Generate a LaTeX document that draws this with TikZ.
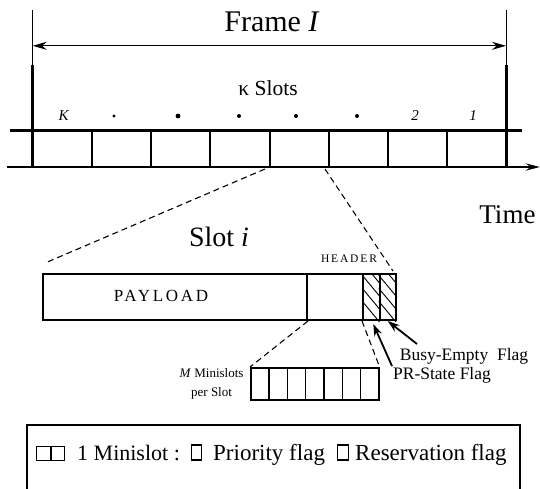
\documentclass[tikz,border=0pt]{standalone}
\usepackage{fontspec}
\setmainfont{Liberation Serif}
\newfontfamily\capsfont[LetterSpace=16]{Liberation Serif}
\usetikzlibrary{arrows.meta,calc,positioning}

\tikzset{
  thickrule/.style={line width=2.6pt},
  slotline/.style={line width=2pt},
  boxline/.style={draw,line width=2pt,inner sep=0pt},
  zoomline/.style={line width=1.1pt,dash pattern=on 6pt off 4pt},
  flagarrow/.style={line width=1.8pt,-{Stealth[length=12pt,width=8pt]}},
  legendbox/.style={draw,line width=1.2pt,inner sep=0pt},
}

\begin{document}
\begin{tikzpicture}[x=1pt,y=-1pt,>=Stealth]
\useasboundingbox (0,0) rectangle (540,488);

% frame I
\draw[line width=1pt] (32.7,10)--(32.7,65);
\draw[line width=3pt] (32.7,65)--(32.7,168);
\draw[line width=1pt] (506,10)--(506,65);
\draw[line width=3pt] (506,65)--(506,168);
\draw[line width=1.1pt,{Stealth[length=14pt,width=8pt]}-{Stealth[length=14pt,width=8pt]}] (32.7,45.8)--(506,45.8);
\node (frame) at (272,22) {\fontsize{30}{30}\selectfont Frame \textit{I}};
\node (kslots) at (268,88) {\fontsize{21.5}{22}\selectfont κ Slots};

% slot row and time axis
\draw[thickrule] (10,130.5)--(522,130.5);
\draw[thickrule,-{Stealth[length=14pt,width=7pt]}] (7,167)--(540,167);
\foreach \i in {1,...,7}
  \draw[slotline] ({32.7+59.2*\i},130)--({32.7+59.2*\i},167);
\foreach \x/\t in {64/K,415/2,473/1}
  \node at (\x,116) {\fontsize{15}{15}\selectfont\textit{\t}};
\foreach \x/\r in {114/1.6,178/2.4,239/2,296/2,357/2}
  \fill (\x,116) circle (\r);
\coordinate (si-l) at (265,169);
\coordinate (si-r) at (325,169);
\node[anchor=east] (time) at (539,215) {\fontsize{27}{27}\selectfont Time};

% slot i
\node (sloti) at (219,237) {\fontsize{28}{28}\selectfont Slot \textit{i}};
\node[boxline,minimum width=264pt,minimum height=46pt,anchor=north west] (payload) at (42,273) {};
\node (ptag) at (161,296) {\fontsize{17}{17}\capsfont PAYLOAD};
\node[boxline,minimum width=56pt,minimum height=46pt,anchor=north west] (header) at (306,273) {};
\node[boxline,minimum width=16.5pt,minimum height=46pt,anchor=north west] (prflag) at (362,273) {};
\node[boxline,minimum width=16.5pt,minimum height=46pt,anchor=north west] (beflag) at (378.5,273) {};
\foreach \c in {prflag,beflag}{
  \begin{scope}
    \clip (\c.south west) rectangle (\c.north east);
    \foreach \k in {-24,-11,...,40}
      \draw[line width=0.9pt] ($(\c.north west)+(0,\k)$) -- ++(20,24);
  \end{scope}
}
\node (hlabel) at (349,259) {\fontsize{11.5}{12}\capsfont HEADER};
\coordinate (pay-end) at (45,263);
\coordinate (head-end) at (393,271);
\draw[zoomline] (si-l)--(pay-end);
\draw[zoomline] (si-r)--(head-end);

% minislots
\foreach \k in {0,...,6}
  \node[draw,line width=1.5pt,minimum width=18.3pt,minimum height=32pt,inner sep=0pt,anchor=north west]
    (mini\k) at ({250+18.3*\k},367) {};
\draw[zoomline] (payload.south east)--(mini0.north west);
\draw[zoomline] (prflag.south west)--(mini6.north east);
\node[left=3pt of mini0.west,align=center,font=\fontsize{13}{19}\selectfont] (mlabel)
  {\textit{M} Minislots\\per Slot};

% flags
\node (belabel) at (464,356) {\fontsize{17.5}{18}\selectfont Busy-Empty\ \ Flag};
\node (prlabel) at (442,375) {\fontsize{17.5}{18}\selectfont PR-State Flag};
\coordinate (be-tail) at (417,344);
\coordinate (pr-tail) at (392,366);
\draw[flagarrow] (be-tail)--(beflag.south);
\draw[flagarrow] (pr-tail)--($(prflag.south)+(2,3)$);

% legend
\draw[line width=1.2pt] (27,492)--(27,425)--(520,425)--(520,492);
\node[legendbox,minimum width=13.5pt,minimum height=14pt,anchor=north west] (ic1) at (36,446) {};
\node[legendbox,minimum width=13.5pt,minimum height=14pt,right=0pt of ic1] (ic2) {};
\begin{scope}[font=\fontsize{23}{24}\selectfont]
\node[anchor=base west,inner sep=0pt,font=\fontsize{22}{24}\selectfont] (mtext) at (77,460) {1 Minislot :};
\node[legendbox,minimum width=10pt,minimum height=15pt,anchor=south west] (psq) at (191,460.5) {};
\node[anchor=base west,inner sep=0pt] (ptext) at (213,460) {Priority flag};
\node[legendbox,minimum width=11pt,minimum height=15pt,anchor=south west] (rsq) at (337,460.5) {};
\node[anchor=base west,inner sep=0pt] (rtext) at (355,460) {Reservation flag};
\end{scope}
\end{tikzpicture}
\end{document}
